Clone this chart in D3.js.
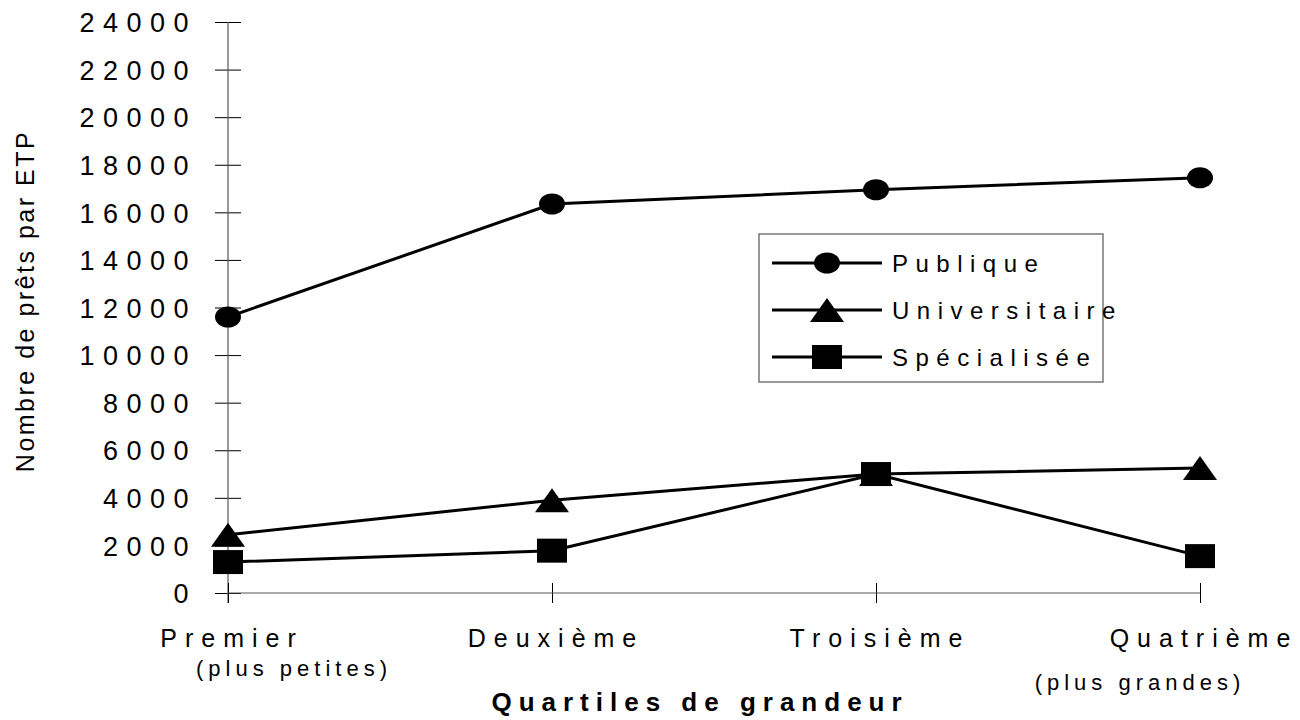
<!DOCTYPE html>
<html>
<head>
<meta charset="utf-8">
<script src="https://cdnjs.cloudflare.com/ajax/libs/d3/7.8.5/d3.min.js"></script>
<style>
  body { margin: 0; background: #fff; }
  svg { display: block; font-family: "Liberation Sans", Arial, sans-serif; }
</style>
</head>
<body>
<svg id="chart" width="1300" height="720"></svg>
<script>
// Data
const categories = ["Premier", "Deuxième", "Troisième", "Quatrième"];
const subLabels = ["(plus petites)", "", "", "(plus grandes)"];
const seriesNames = ["Publique", "Universitaire", "Spécialisée"];
const publique = [11600, 16350, 16950, 17450];
const universitaire = [2450, 3900, 5000, 5250];
const specialisee = [1300, 1780, 5000, 1550];
const yTicks = [0, 2000, 4000, 6000, 8000, 10000, 12000, 14000, 16000, 18000, 20000, 22000, 24000];

const series = [
  { name: seriesNames[0], values: publique, marker: "circle" },
  { name: seriesNames[1], values: universitaire, marker: "triangle" },
  { name: seriesNames[2], values: specialisee, marker: "square" }
];

const svg = d3.select("#chart");

// Scales
const x = d3.scalePoint().domain(categories).range([228, 1200]);
const y = d3.scaleLinear().domain([0, 24000]).range([593, 22]);

// Marker drawing
function drawMarker(g, type) {
  if (type === "circle") {
    g.append("ellipse").attr("rx", 13).attr("ry", 10.5).attr("fill", "#000");
  } else if (type === "triangle") {
    g.append("path").attr("d", "M0,-12L17,12L-17,12Z").attr("fill", "#000");
  } else {
    g.append("rect").attr("x", -15).attr("y", -12).attr("width", 30).attr("height", 24).attr("fill", "#000");
  }
}

// Y axis
const yAxis = svg.append("g")
  .attr("transform", `translate(${x(categories[0])},0)`)
  .call(d3.axisLeft(y).tickValues(yTicks).tickSize(0).tickFormat(d3.format("d")));
yAxis.select(".domain").remove();
yAxis.selectAll(".tick line").attr("x1", -13).attr("x2", 13).attr("stroke", "#000");
yAxis.selectAll(".tick text")
  .attr("x", -31)
  .attr("dy", "0.36em")
  .attr("fill", "#000")
  .style("font-family", "'Liberation Sans', Arial, sans-serif")
  .style("font-size", "27px")
  .style("letter-spacing", "8.5px");
svg.append("line")
  .attr("x1", x(categories[0])).attr("x2", x(categories[0]))
  .attr("y1", y(24000)).attr("y2", y(0) + 10)
  .attr("stroke", "#555").attr("stroke-width", 1.2);

// X axis
const xAxis = svg.append("g")
  .attr("transform", `translate(0,${y(0)})`)
  .call(d3.axisBottom(x).tickSize(0).tickFormat(""));
xAxis.select(".domain").remove();
xAxis.selectAll(".tick line").attr("y1", -10).attr("y2", 10).attr("stroke", "#000");
svg.append("line")
  .attr("x1", x(categories[0])).attr("x2", x(categories[categories.length - 1]))
  .attr("y1", y(0)).attr("y2", y(0))
  .attr("stroke", "#555").attr("stroke-width", 1.2);

// Category labels
svg.selectAll(".cat")
  .data(categories)
  .enter()
  .append("text")
  .attr("class", "cat")
  .attr("x", d => x(d) + 4)
  .attr("y", 647)
  .attr("text-anchor", "middle")
  .style("font-size", "25px")
  .style("letter-spacing", "8px")
  .text(d => d);

svg.selectAll(".sub")
  .data(subLabels)
  .enter()
  .append("text")
  .attr("class", "sub")
  .attr("x", (d, i) => x(categories[i]) + (i === 0 ? 66 : -60))
  .attr("y", (d, i) => (i === 0 ? 676 : 690))
  .attr("text-anchor", "middle")
  .style("font-size", "22px")
  .style("letter-spacing", "5px")
  .text(d => d);

// Axis titles
svg.append("text")
  .attr("x", 700)
  .attr("y", 711)
  .attr("text-anchor", "middle")
  .style("font-size", "26px")
  .style("font-weight", "bold")
  .style("letter-spacing", "7px")
  .text("Quartiles de grandeur");

svg.append("text")
  .attr("transform", "translate(34,301) rotate(-90)")
  .attr("text-anchor", "middle")
  .style("font-size", "25px")
  .style("letter-spacing", "2.5px")
  .text("Nombre de prêts par ETP");

// Lines and markers
const line = d3.line()
  .x((d, i) => x(categories[i]))
  .y(d => y(d));

series.forEach(s => {
  svg.append("path")
    .datum(s.values)
    .attr("d", line)
    .attr("fill", "none")
    .attr("stroke", "#000")
    .attr("stroke-width", 3);
});

series.forEach(s => {
  s.values.forEach((v, i) => {
    const g = svg.append("g").attr("transform", `translate(${x(categories[i])},${y(v)})`);
    drawMarker(g, s.marker);
  });
});

// Legend
const legend = svg.append("g").attr("transform", "translate(759,234)");
legend.append("rect")
  .attr("width", 344).attr("height", 148)
  .attr("fill", "#fff").attr("stroke", "#555").attr("stroke-width", 1.2);

series.forEach((s, i) => {
  const row = legend.append("g").attr("transform", `translate(0,${29 + i * 47})`);
  row.append("line")
    .attr("x1", 13).attr("x2", 123)
    .attr("stroke", "#000").attr("stroke-width", 3);
  drawMarker(row.append("g").attr("transform", "translate(68,0)"), s.marker);
  row.append("text")
    .attr("x", 133)
    .attr("dy", "0.36em")
    .style("font-size", "24px")
    .style("letter-spacing", "7.5px")
    .text(s.name);
});
</script>
</body>
</html>
